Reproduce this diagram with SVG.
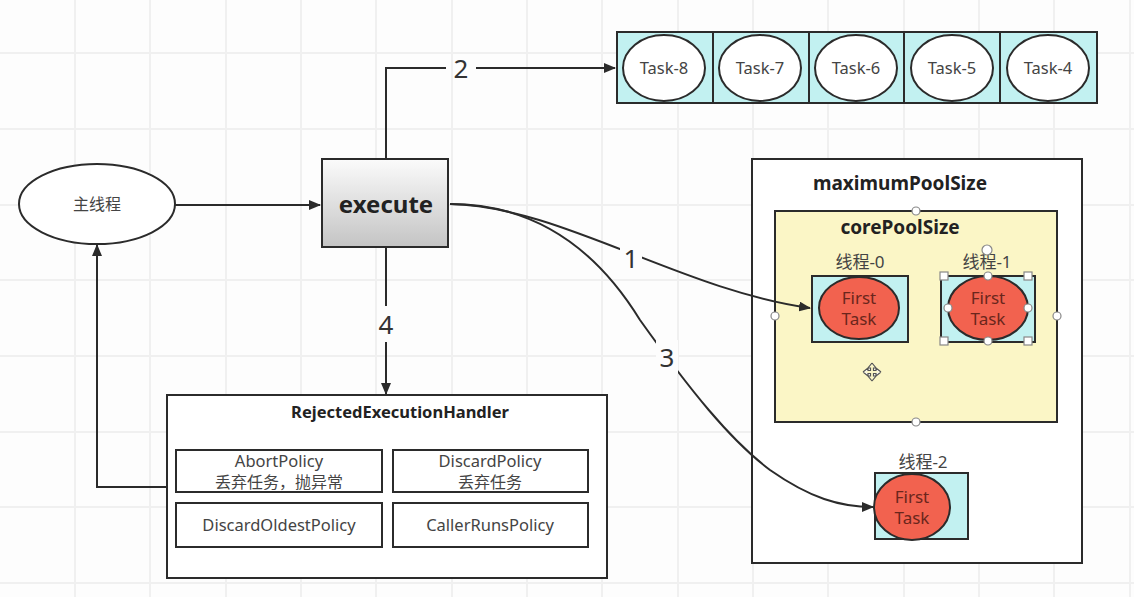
<svg xmlns="http://www.w3.org/2000/svg" width="1134" height="597" viewBox="0 0 1134 597">
<defs>
<style>
.grid line{stroke:#f0f0f0;stroke-width:2}
.ln{fill:none;stroke:#2b2b2b;stroke-width:2}
.box{stroke:#2b2b2b;stroke-width:2}
.t{font-family:"Noto Sans","Noto Sans CJK SC",sans-serif;fill:#444;text-anchor:middle}
.b{font-weight:bold;fill:#222}
.lbl{font-family:"Noto Sans",sans-serif;font-size:26px;fill:#333;text-anchor:middle}
.cell{fill:#c2f1f1;stroke:#2b2b2b;stroke-width:2}
.oval{fill:#fff;stroke:#2b2b2b;stroke-width:2}
.red{fill:#f2624f;stroke:#2b2b2b;stroke-width:2}
.rt{font-family:"Noto Sans",sans-serif;font-size:17px;fill:#6a261c;text-anchor:middle}
.h{fill:#fff;stroke:#888;stroke-width:1.2}
</style>
<linearGradient id="gexe" x1="0" y1="0" x2="0" y2="1">
<stop offset="0" stop-color="#fbfbfb"/>
<stop offset="1" stop-color="#c4c4c4"/>
</linearGradient>
<marker id="arr" viewBox="0 0 12 10" refX="11" refY="5" markerWidth="12" markerHeight="10" markerUnits="userSpaceOnUse" orient="auto">
<path d="M0,0 L12,5 L0,10 Z" fill="#2b2b2b"/>
</marker>
</defs>
<rect width="1134" height="597" fill="#fdfdfd"/>
<g class="grid">
<line x1="75" y1="0" x2="75" y2="597"/><line x1="150" y1="0" x2="150" y2="597"/><line x1="226" y1="0" x2="226" y2="597"/><line x1="301" y1="0" x2="301" y2="597"/><line x1="376" y1="0" x2="376" y2="597"/><line x1="452" y1="0" x2="452" y2="597"/><line x1="527" y1="0" x2="527" y2="597"/><line x1="602" y1="0" x2="602" y2="597"/><line x1="678" y1="0" x2="678" y2="597"/><line x1="753" y1="0" x2="753" y2="597"/><line x1="828" y1="0" x2="828" y2="597"/><line x1="904" y1="0" x2="904" y2="597"/><line x1="979" y1="0" x2="979" y2="597"/><line x1="1054" y1="0" x2="1054" y2="597"/><line x1="1130" y1="0" x2="1130" y2="597"/>
<line x1="0" y1="53" x2="1134" y2="53"/><line x1="0" y1="129" x2="1134" y2="129"/><line x1="0" y1="205" x2="1134" y2="205"/><line x1="0" y1="280" x2="1134" y2="280"/><line x1="0" y1="356" x2="1134" y2="356"/><line x1="0" y1="432" x2="1134" y2="432"/><line x1="0" y1="507" x2="1134" y2="507"/><line x1="0" y1="583" x2="1134" y2="583"/>
</g>

<g id="main-thread">
<ellipse class="oval" cx="97" cy="204" rx="78" ry="40"/>
<text class="t" x="97" y="210" font-size="16">主线程</text>
</g>

<g id="execute">
<rect class="box" x="322" y="159" width="126" height="88" fill="url(#gexe)"/>
<text class="t b" x="386" y="213" font-size="24">execute</text>
</g>

<g id="task-queue">
<rect class="cell" x="617" y="32" width="96" height="71"/>
<rect class="cell" x="713" y="32" width="96" height="71"/>
<rect class="cell" x="809" y="32" width="95" height="71"/>
<rect class="cell" x="904" y="32" width="96" height="71"/>
<rect class="cell" x="1000" y="32" width="97" height="71"/>
<ellipse class="oval" cx="664" cy="68" rx="41" ry="33"/>
<ellipse class="oval" cx="760" cy="68" rx="41" ry="33"/>
<ellipse class="oval" cx="856" cy="68" rx="41" ry="33"/>
<ellipse class="oval" cx="952" cy="68" rx="41" ry="33"/>
<ellipse class="oval" cx="1048" cy="68" rx="41" ry="33"/>
<text class="t" x="664" y="74" font-size="16.5">Task-8</text>
<text class="t" x="760" y="74" font-size="16.5">Task-7</text>
<text class="t" x="856" y="74" font-size="16.5">Task-6</text>
<text class="t" x="952" y="74" font-size="16.5">Task-5</text>
<text class="t" x="1048" y="74" font-size="16.5">Task-4</text>
</g>

<g id="maximumPoolSize">
<rect class="box" x="752" y="159" width="330" height="404" fill="#fff"/>
<text class="t b" x="900" y="190" font-size="19">maximumPoolSize</text>
</g>

<g id="corePoolSize">
<rect class="box" x="775" y="211" width="282" height="211" fill="#fbf6c6"/>
<text class="t b" x="900" y="234" font-size="19">corePoolSize</text>
<circle class="h" cx="916" cy="211" r="4"/>
<circle class="h" cx="775" cy="316" r="4"/>
<circle class="h" cx="1057" cy="316" r="4"/>
<circle class="h" cx="916" cy="422" r="4"/>
<path d="M872,363 l4,5 h-2.5 v2.5 h2.5 M872,363 l-4,5 h2.5 v2.5 h-2.5 M872,381 l4,-5 h-2.5 v-2.5 h2.5 M872,381 l-4,-5 h2.5 v-2.5 h-2.5 M863,372 l5,-4 v2.5 h2.5 M863,372 l5,4 v-2.5 h2.5 M881,372 l-5,-4 v2.5 h-2.5 M881,372 l-5,4 v-2.5 h-2.5" fill="#fff" stroke="#555" stroke-width="1.2"/>
</g>

<g id="thread-0">
<text class="t" x="860" y="268" font-size="17">线程-0</text>
<rect class="cell" x="812" y="276" width="96" height="66"/>
<ellipse class="red" cx="859" cy="308" rx="40" ry="31"/>
<text class="rt" x="859" y="304">First</text>
<text class="rt" x="859" y="325">Task</text>
</g>

<g id="thread-1">
<text class="t" x="987" y="268" font-size="17">线程-1</text>
<rect class="cell" x="941" y="276" width="94" height="66"/>
<ellipse class="red" cx="988" cy="308" rx="40" ry="32"/>
<text class="rt" x="988" y="304">First</text>
<text class="rt" x="988" y="325">Task</text>
<circle class="h" cx="987" cy="250" r="5"/>
<rect class="h" x="940" y="272" width="8" height="8"/>
<rect class="h" x="1024" y="272" width="8" height="8"/>
<rect class="h" x="940" y="337" width="8" height="8"/>
<rect class="h" x="1024" y="337" width="8" height="8"/>
<circle class="h" cx="988" cy="276" r="4"/>
<circle class="h" cx="948" cy="308" r="4"/>
<circle class="h" cx="1028" cy="308" r="4"/>
<circle class="h" cx="988" cy="341" r="4"/>
</g>

<g id="thread-2">
<text class="t" x="923" y="468" font-size="17">线程-2</text>
<rect class="cell" x="875" y="473" width="93" height="66"/>
<ellipse class="red" cx="912" cy="507" rx="38" ry="33"/>
<text class="rt" x="912" y="503">First</text>
<text class="rt" x="912" y="524">Task</text>
</g>

<g id="rejected-handler">
<rect class="box" x="167" y="395" width="440" height="183" fill="#fff"/>
<text class="t b" x="400" y="418" font-size="16.5">RejectedExecutionHandler</text>
<rect class="box" x="176" y="450" width="206" height="42" fill="#fff"/>
<text class="t" x="279" y="467" font-size="16.5">AbortPolicy</text>
<text class="t" x="279" y="488" font-size="16">丢弃任务，抛异常</text>
<rect class="box" x="393" y="450" width="195" height="42" fill="#fff"/>
<text class="t" x="490" y="467" font-size="16.5">DiscardPolicy</text>
<text class="t" x="490" y="488" font-size="16">丢弃任务</text>
<rect class="box" x="176" y="503" width="206" height="44" fill="#fff"/>
<text class="t" x="279" y="531" font-size="16.5">DiscardOldestPolicy</text>
<rect class="box" x="393" y="503" width="195" height="44" fill="#fff"/>
<text class="t" x="490" y="531" font-size="16.5">CallerRunsPolicy</text>
</g>

<g id="connectors">
<path class="ln" d="M175,205 H320" marker-end="url(#arr)"/>
<path class="ln" d="M386,159 V68 H446 M476,68 H615" marker-end="url(#arr)"/>
<path class="ln" d="M386,247 V306 M386,342 V394" marker-end="url(#arr)"/>
<path class="ln" d="M167,487 H97 V245" marker-end="url(#arr)"/>
<path class="ln" d="M450,204 C560,206 680,290 810,308" marker-end="url(#arr)"/>
<path class="ln" d="M450,204 C540,204 600,255 640,320 C690,390 730,440 770,470 C810,498 840,507 873,507" marker-end="url(#arr)"/>
<rect x="620" y="240" width="22" height="34" fill="#fdfdfd"/>
<rect x="656" y="340" width="22" height="34" fill="#fdfdfd"/>
<text class="lbl" x="461" y="78">2</text>
<text class="lbl" x="631" y="268">1</text>
<text class="lbl" x="667" y="367">3</text>
<text class="lbl" x="386" y="334">4</text>
</g>
</svg>
